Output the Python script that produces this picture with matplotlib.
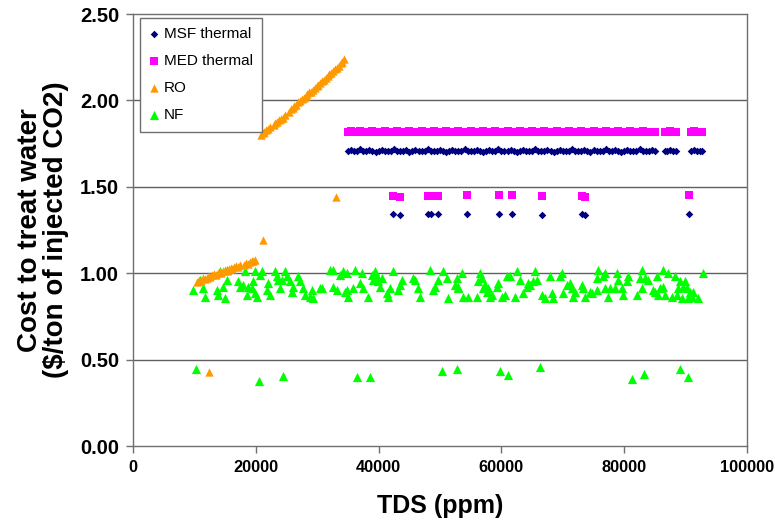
import matplotlib
matplotlib.use("Agg")
import matplotlib.pyplot as plt

plt.rcParams['font.family'] = ['Liberation Sans', 'DejaVu Sans']

# ---------------- data (TDS in ppm, cost in $/ton of injected CO2) ----------------
thermal_tds = [35000, 35500, 36000, 36500, 37000, 37500, 38000, 38500, 39000, 39500,
               40000, 40500, 41000, 41500, 42000, 42500, 43000, 43500, 44000, 44500,
               45000, 45500, 46000, 46500, 47000, 47500, 48000, 48500, 49000, 49500,
               50000, 50500, 51000, 51500, 52000, 52500, 53000, 53500, 54000, 54500,
               55000, 55500, 56000, 56500, 57000, 57500, 58000, 58500, 59000, 59500,
               60000, 60500, 61000, 61500, 62000, 62500, 63000, 63500, 64000, 64500,
               65000, 65500, 66000, 66500, 67000, 67500, 68000, 68500, 69000, 69500,
               70000, 70500, 71000, 71500, 72000, 72500, 73000, 73500, 74000, 74500,
               75000, 75500, 76000, 76500, 77000, 77500, 78000, 78500, 79000, 79500,
               80000, 80500, 81000, 81500, 82000, 82500, 83000, 83500, 84000, 84500,
               85000, 86600, 87000, 87500, 88000, 88500, 90800, 91300, 91800, 92300, 92600]
msf_cost = [1.71, 1.715, 1.705, 1.71, 1.72, 1.71, 1.705, 1.715, 1.71, 1.70,
            1.71, 1.715, 1.71, 1.705, 1.71, 1.72, 1.71, 1.705, 1.71, 1.715,
            1.70, 1.71, 1.715, 1.71, 1.705, 1.71, 1.72, 1.71, 1.705, 1.71,
            1.715, 1.71, 1.70, 1.71, 1.715, 1.71, 1.705, 1.71, 1.72, 1.71,
            1.705, 1.71, 1.715, 1.71, 1.70, 1.71, 1.715, 1.705, 1.71, 1.72,
            1.71, 1.705, 1.71, 1.715, 1.71, 1.70, 1.71, 1.715, 1.71, 1.705,
            1.71, 1.72, 1.71, 1.705, 1.71, 1.715, 1.71, 1.70, 1.71, 1.715,
            1.71, 1.705, 1.71, 1.72, 1.71, 1.705, 1.71, 1.715, 1.71, 1.70,
            1.715, 1.71, 1.705, 1.71, 1.72, 1.71, 1.705, 1.715, 1.71, 1.70,
            1.71, 1.715, 1.71, 1.705, 1.71, 1.72, 1.71, 1.705, 1.71, 1.715,
            1.71, 1.71, 1.705, 1.715, 1.71, 1.705, 1.71, 1.715, 1.71, 1.705, 1.71]
med_cost = [1.82, 1.825, 1.815, 1.82, 1.825, 1.82, 1.815, 1.82, 1.825, 1.82,
            1.815, 1.82, 1.825, 1.82, 1.815, 1.82, 1.825, 1.82, 1.815, 1.82,
            1.825, 1.82, 1.815, 1.82, 1.825, 1.82, 1.815, 1.82, 1.825, 1.82,
            1.815, 1.82, 1.825, 1.82, 1.815, 1.82, 1.825, 1.82, 1.815, 1.82,
            1.825, 1.82, 1.815, 1.82, 1.825, 1.82, 1.815, 1.82, 1.825, 1.82,
            1.815, 1.82, 1.825, 1.82, 1.815, 1.82, 1.825, 1.82, 1.815, 1.82,
            1.825, 1.82, 1.815, 1.82, 1.825, 1.82, 1.815, 1.82, 1.825, 1.82,
            1.815, 1.82, 1.825, 1.82, 1.815, 1.82, 1.825, 1.82, 1.815, 1.82,
            1.825, 1.82, 1.815, 1.82, 1.825, 1.82, 1.815, 1.82, 1.825, 1.82,
            1.815, 1.82, 1.825, 1.82, 1.815, 1.82, 1.825, 1.82, 1.815, 1.82,
            1.82, 1.815, 1.82, 1.825, 1.82, 1.815, 1.82, 1.825, 1.82, 1.815, 1.82]

thermal_low_tds = [42300, 43500, 48000, 48500, 49600, 54400, 59600, 61700, 66600, 73200, 73600, 90500]
msf_low_cost = [1.34, 1.335, 1.34, 1.34, 1.34, 1.34, 1.345, 1.34, 1.335, 1.34, 1.335, 1.345]
med_low_cost = [1.445, 1.44, 1.445, 1.445, 1.447, 1.45, 1.452, 1.45, 1.445, 1.445, 1.44, 1.452]

ro_tds = [10500, 10800, 11100, 11400, 11700, 12000, 12300, 12600, 12900, 13200,
          13500, 13800, 14100, 14400, 14700, 15000, 15300, 15600, 15900, 16200,
          16500, 16800, 17100, 17400, 18100, 18400, 18700, 19000, 19300, 19600, 19900,
          20800, 21100, 21400, 21700, 22000, 22300, 22900, 23200, 23500, 23800,
          24100, 24400, 24700, 25400, 25700, 26000, 26300, 26600, 26900, 27200,
          27500, 27800, 28100, 28400, 28700, 29000, 29300, 29600, 29900, 30200,
          30500, 30800, 31100, 31400, 31700, 32000, 32300, 32600, 32900, 33200,
          33500, 33800, 34100, 34400,
          12400, 21200, 33100]
ro_cost = [0.95, 0.96, 0.955, 0.97, 0.965, 0.975, 0.985, 0.98, 0.99, 0.995,
           0.99, 1.0, 1.005, 1.0, 1.012, 1.018, 1.015, 1.024, 1.03, 1.026,
           1.036, 1.04, 1.035, 1.048, 1.05, 1.058, 1.055, 1.066, 1.07, 1.068, 1.078,
           1.80, 1.81, 1.815, 1.83, 1.832, 1.845, 1.86, 1.872, 1.875, 1.888,
           1.892, 1.90, 1.915, 1.935, 1.948, 1.955, 1.968, 1.975, 1.99, 1.995,
           2.008, 2.015, 2.028, 2.035, 2.048, 2.05, 2.062, 2.07, 2.082, 2.09,
           2.10, 2.112, 2.12, 2.13, 2.142, 2.15, 2.16, 2.172, 2.18, 2.19,
           2.20, 2.215, 2.225, 2.24,
           0.43, 1.19, 1.44]

nf_tds = [9.83, 10.91, 11.46, 11.73, 13.63, 13.90, 14.71, 15.26, 14.99, 14.17,
          15.26, 17.16, 17.43, 17.97, 18.52, 18.79, 19.33, 19.60, 19.87, 20.14,
          18.24, 19.87, 20.96, 20.69, 22.05, 21.77, 22.32, 23.13, 23.40, 23.67,
          23.95, 24.22, 24.76, 25.03, 25.57, 26.12, 25.85, 26.93, 27.20, 27.75,
          28.02, 28.83, 29.10, 29.38, 30.46,
          30.73, 32.09, 32.63, 33.72, 34.26, 34.80, 32.63, 33.18, 34.53, 35.08,
          34.80, 35.89, 36.16, 37.25, 36.98, 37.52, 38.33, 38.88, 39.15, 39.42,
          39.69, 39.96, 40.23, 40.51, 41.32, 41.59, 41.86, 42.41, 43.49, 43.76,
          43.22, 45.66, 45.94, 46.48, 46.75, 48.38, 48.92, 49.19, 49.74, 50.55,
          51.09, 51.37, 52.45, 53.00,
          52.71, 52.98, 53.53, 53.80, 54.61, 55.97, 56.24, 56.51, 56.78, 57.06,
          57.33, 57.60, 57.87, 58.14, 58.41, 59.23, 59.50, 60.04, 60.59, 60.86,
          61.40, 62.21, 62.49, 63.03, 63.57, 64.11, 64.39, 64.66, 65.20, 65.47,
          65.74, 66.56, 67.10, 67.92, 68.19, 68.46, 69.54, 69.82, 70.09, 70.63,
          71.17, 71.45, 71.72, 71.99, 73.07, 73.35, 73.62, 74.43,
          74.70, 75.52, 75.79, 75.52, 76.60, 76.87, 76.87, 77.42, 77.69, 78.50,
          78.77, 79.05, 79.59, 79.86, 80.40, 80.67, 82.03, 82.58, 82.85, 82.85,
          83.39, 83.93, 84.75, 85.02, 85.29, 85.56, 85.83, 86.38, 86.38, 86.65,
          87.19, 87.73, 88.28, 88.55, 88.82, 89.09, 89.36, 89.64, 89.91, 90.18,
          90.45, 90.72, 90.99, 91.26, 92.08, 92.89,
          10.26, 20.52, 24.43, 36.5, 38.6, 50.3, 52.7, 59.8, 61.1, 66.3,
          81.3, 83.2, 89.1, 90.4]
nf_cost = [0.904, 0.961, 0.913, 0.865, 0.904, 0.875, 0.923, 0.961, 0.855, 1.01,
           1.019, 0.952, 0.923, 0.932, 0.875, 0.923, 0.913, 0.952, 0.884, 0.865,
           1.01, 1.01, 1.01, 0.99, 0.942, 0.904, 0.875, 1.01, 0.981, 0.961,
           0.913, 0.961, 1.01, 0.981, 0.952, 0.923, 0.894, 0.981, 0.952, 0.913,
           0.875, 0.865, 0.904, 0.855, 0.913,
           0.913, 1.019, 1.019, 0.990, 1.01, 1.0, 0.923, 0.904, 0.894, 0.865,
           0.904, 0.913, 1.019, 1.0, 0.942, 0.913, 0.865, 0.990, 0.961, 1.01,
           0.981, 0.952, 0.923, 0.971, 0.884, 0.865, 0.913, 1.01, 0.932, 0.961,
           0.904, 0.971, 0.961, 0.913, 0.865, 1.019, 0.904, 0.923, 0.961, 1.01,
           0.971, 0.855, 0.932, 0.913,
           0.971, 0.923, 1.0, 0.865, 0.865, 0.865, 0.952, 1.0, 0.971, 0.913,
           0.932, 0.894, 0.913, 0.865, 0.875, 0.923, 0.942, 0.865, 0.875, 0.981,
           0.981, 0.865, 1.01, 0.961, 0.884, 0.923, 0.942, 0.932, 0.952, 1.01,
           0.961, 0.875, 0.855, 0.981, 0.884, 0.855, 0.981, 1.0, 0.884, 0.932,
           0.942, 0.913, 0.865, 0.894, 0.932, 0.913, 0.865, 0.894,
           0.884, 0.904, 1.019, 0.971, 0.981, 1.0, 0.913, 0.865, 0.913, 0.913,
           1.0, 0.961, 0.913, 0.875, 0.952, 0.981, 0.875, 0.971, 1.019, 0.913,
           0.971, 0.961, 0.904, 0.894, 0.981, 0.875, 0.913, 1.019, 0.923, 0.875,
           1.0, 0.865, 0.981, 0.875, 0.913, 0.952, 0.855, 0.923, 0.952, 0.913,
           0.855, 0.894, 0.865, 0.894, 0.855, 1.0,
           0.446, 0.376, 0.405, 0.40, 0.40, 0.434, 0.445, 0.434, 0.411, 0.457,
           0.388, 0.417, 0.445, 0.40]

x_ticks = [0, 20000, 40000, 60000, 80000, 100000]
y_ticks = [0.0, 0.5, 1.0, 1.5, 2.0, 2.5]

# ---------------- figure ----------------
fig = plt.figure(figsize=(7.75, 5.23), dpi=100)
ax = fig.add_axes([133/775, 1-446/523, 614/775, 432/523])

ax.scatter([t * 1000 for t in nf_tds], nf_cost, marker='^', s=44, color='#00FF00',
           linewidths=0, label='NF', zorder=3)
ax.scatter(ro_tds, ro_cost, marker='^', s=36, color='#FF9900', linewidths=0, label='RO', zorder=4)
ax.scatter(thermal_tds + thermal_low_tds, med_cost + med_low_cost, marker='s', s=28,
           color='#FF00FF', linewidths=0, label='MED thermal', zorder=3)
ax.scatter(thermal_tds + thermal_low_tds, msf_cost + msf_low_cost, marker='D', s=15,
           color='#000080', linewidths=0, label='MSF thermal', zorder=3)

ax.set_xlim(0, 100000)
ax.set_ylim(0, 2.5)
ax.set_xticks(x_ticks)
ax.set_yticks(y_ticks)
ax.set_xticklabels([str(v) for v in x_ticks])
ax.set_yticklabels([f"{v:.2f}" for v in y_ticks])
for lab in ax.get_xticklabels():
    lab.set_fontweight('bold')
    lab.set_fontsize(11.8)
for lab in ax.get_yticklabels():
    lab.set_fontweight('bold')
    lab.set_fontsize(14.5)
ax.tick_params(direction='out', length=5, width=1, color='#707070', pad=5)

for yv in [0.5, 1.0, 1.5, 2.0]:
    ax.axhline(yv, color='#606060', lw=1.0, zorder=1)
for sp in ax.spines.values():
    sp.set_color('#707070')
    sp.set_linewidth(1.0)

ax.set_xlabel('TDS (ppm)', fontsize=18, fontweight='bold', labelpad=14)
ax.set_ylabel('Cost to treat water\n(\\$/ton of injected CO2)', fontsize=20,
              fontweight='bold', labelpad=8, linespacing=1.0)

handles, labels = ax.get_legend_handles_labels()
order = [3, 2, 1, 0]
leg = ax.legend([handles[i] for i in order], [labels[i] for i in order],
                loc='upper left', bbox_to_anchor=(0.011, 0.99), fontsize=11,
                frameon=True, fancybox=False, edgecolor='#707070', framealpha=1,
                handlelength=0.6, handletextpad=0.4, labelspacing=0.85,
                borderpad=0.6, borderaxespad=0, markerscale=1.0)
leg.get_frame().set_linewidth(1.0)

fig.savefig('out.png', dpi=100)
